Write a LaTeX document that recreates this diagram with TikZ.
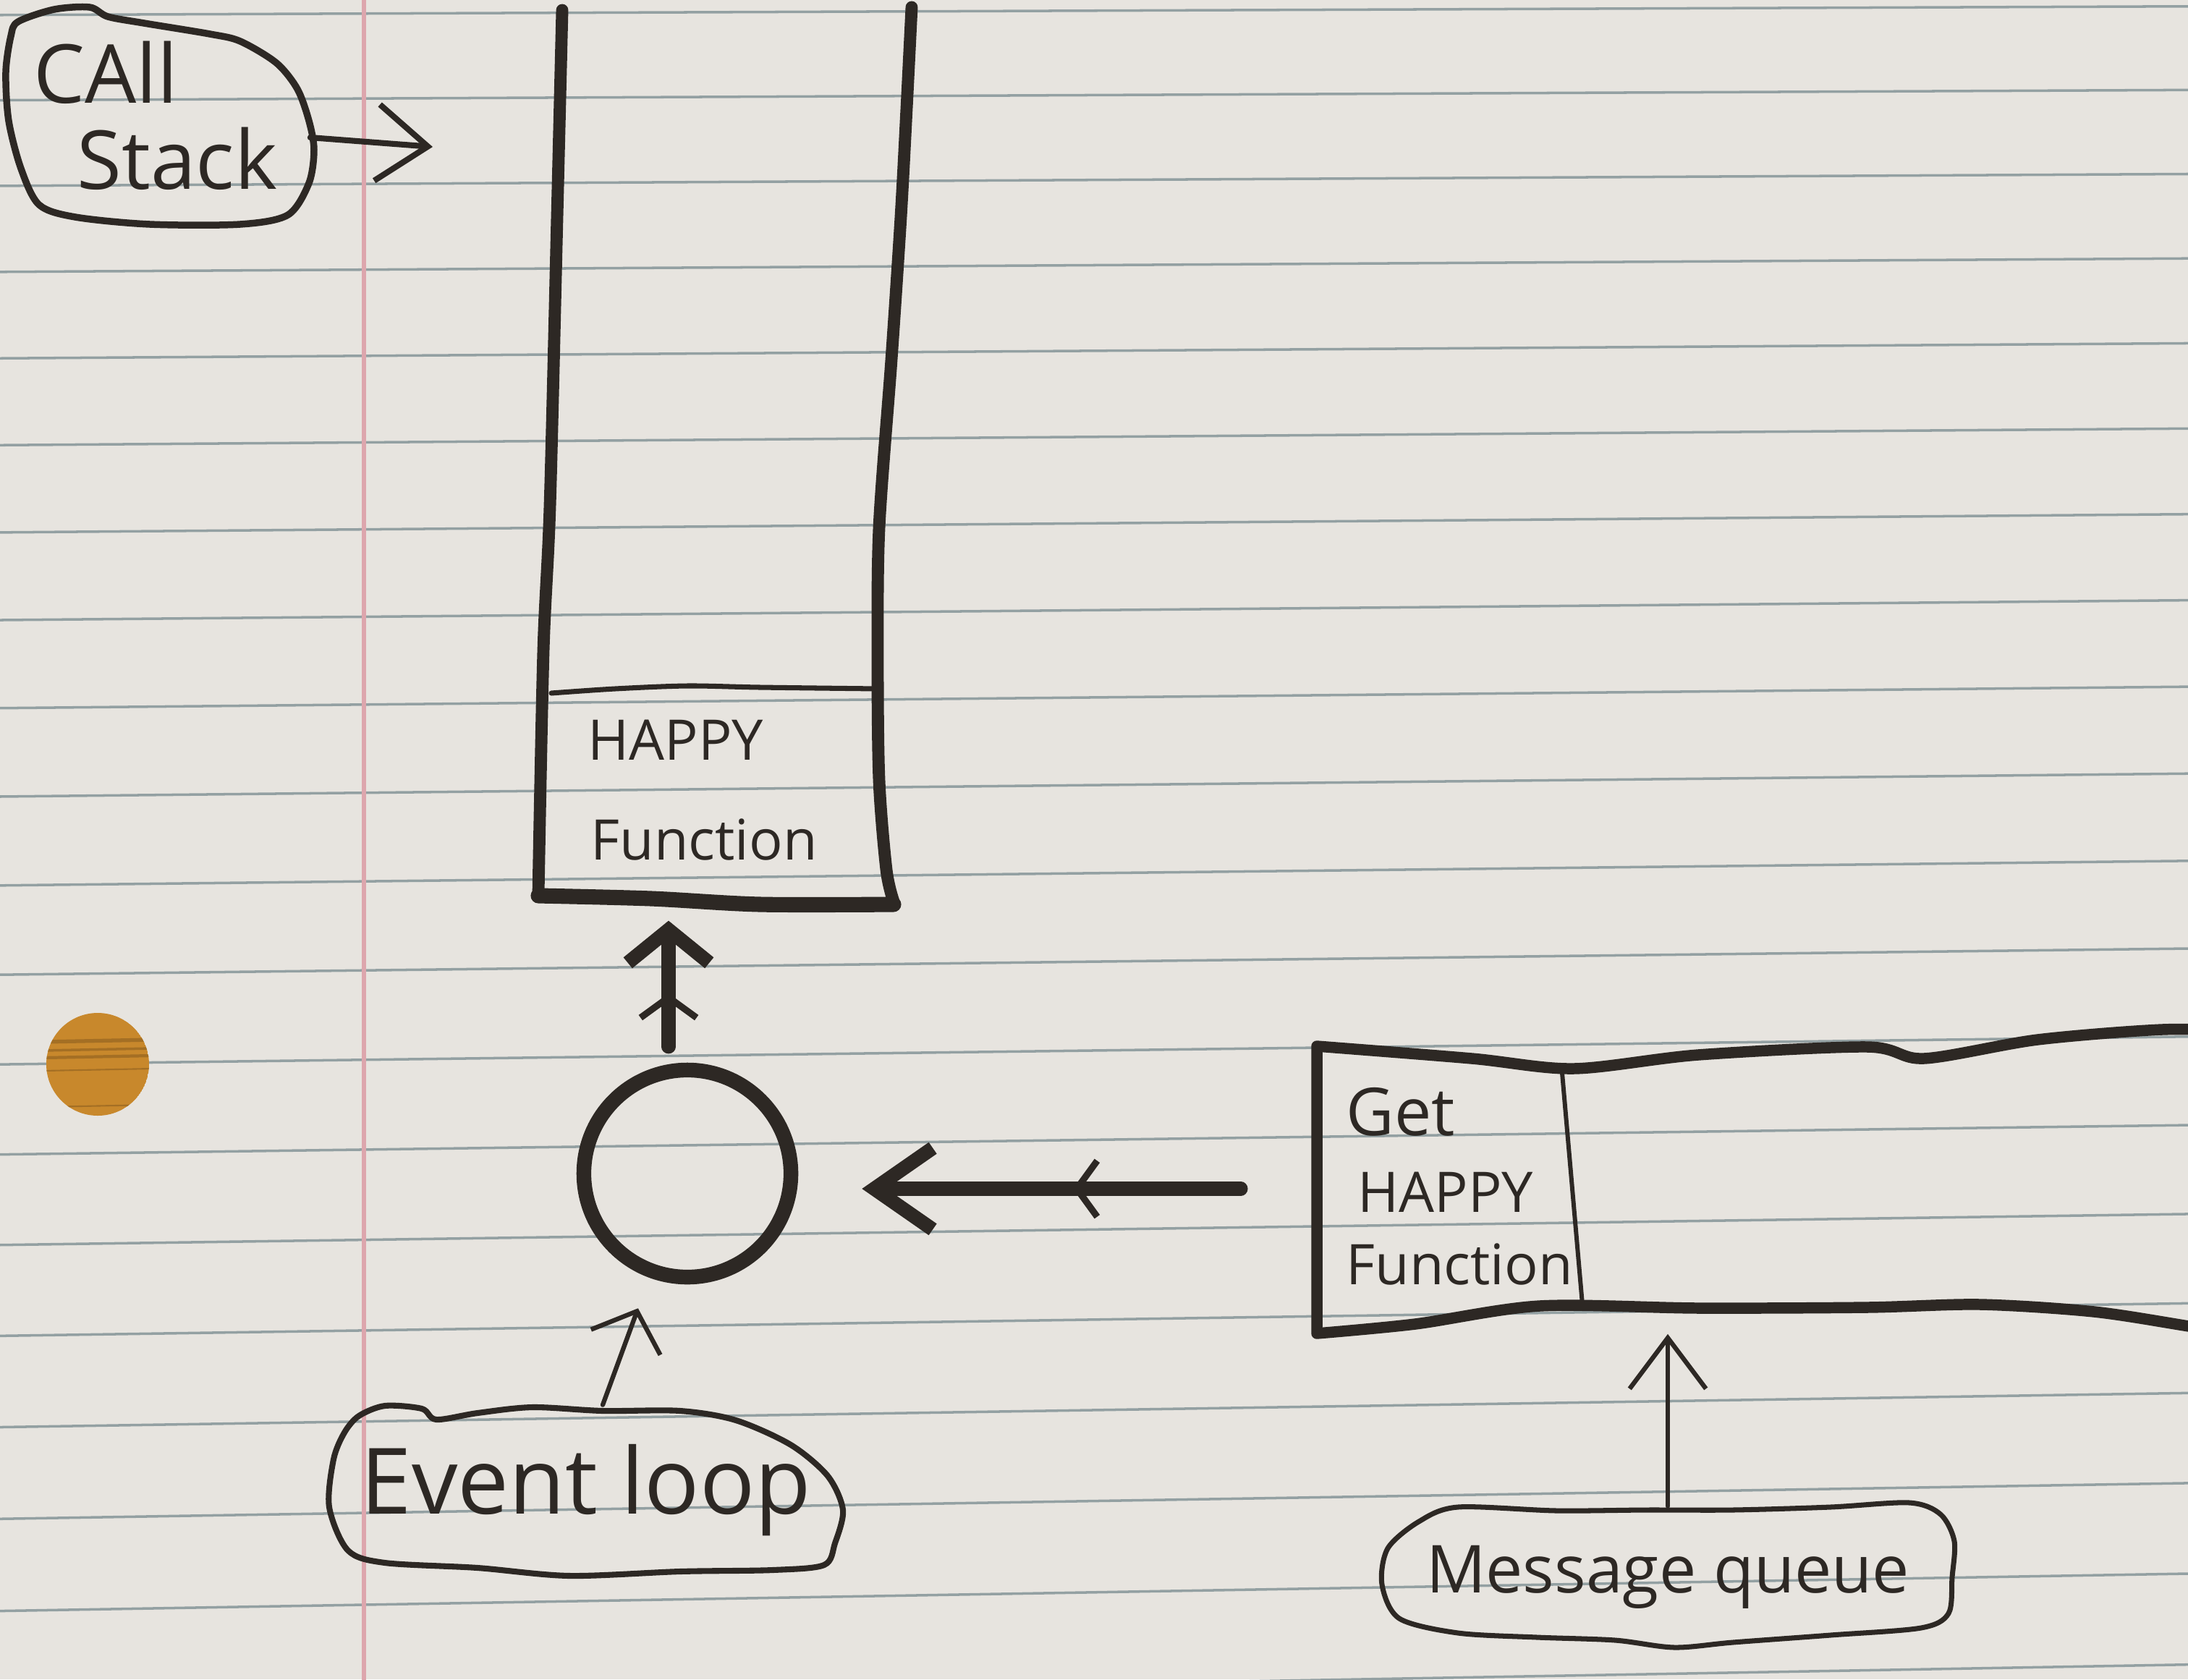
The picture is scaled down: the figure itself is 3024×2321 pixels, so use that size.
\documentclass[tikz,border=0pt]{standalone}
\usepackage{fontspec}
\setmainfont{Open Sans}
\usetikzlibrary{arrows.meta, positioning, decorations.markings, calc}

\definecolor{paper}{HTML}{E7E4DF}
\definecolor{ruling}{HTML}{93A0A2}
\definecolor{margin}{HTML}{DDA6AD}
\definecolor{ink}{HTML}{2D2824}
\definecolor{hole}{HTML}{C8882C}

\begin{document}
\begin{tikzpicture}[x=0.01cm, y=-0.01cm, line cap=round, line join=round,
    hand/.style={font=\fontsize{#1}{#1}\selectfont, text=ink, inner sep=0pt},
    hand/.default=22,
    wall/.style={draw=ink, line width=4.8pt},
    bubble/.style={draw=ink, line width=2.3pt},
    penarrow/.style={draw=ink, line width=1.8pt, -{Straight Barb[length=20pt, width=30pt]}},
    fatarrow/.style={draw=ink, line width=5.5pt, -{Straight Barb[length=#1, width=32pt]}},
    midmark/.style={decoration={markings, mark=at position #1 with
        {\arrow{Straight Barb[length=8pt, width=22pt, line width=2.6pt]}}}, postaction={decorate}}]

    \useasboundingbox (0,0) rectangle (3024,2321);
    \clip (0,0) rectangle (3024,2321);

    % lined paper
    \fill[paper] (0,0) rectangle (3024,2321);
    \foreach \k in {0,...,19}{
        \pgfmathsetmacro\rowy{18+117*\k+0.28*\k*\k}
        \pgfmathsetmacro\tilt{12+2.2*\k}
        \draw[ruling, line width=1pt] (0,{\rowy+0.23*\tilt}) -- (3024,{\rowy-0.77*\tilt});
    }
    \draw[margin, line width=1.6pt] (503,0) -- (503,2321);
    \begin{scope}
        \clip (135,1471) circle (71);
        \fill[hole] (135,1471) circle (71);
        \foreach \sy/\sw in {1440/1.5, 1452/1, 1462/1.2, 1480/0.6, 1530/0.6}
            \draw[hole!82!black, line width=\sw pt] (60,\sy) -- (210,{\sy-3});
    \end{scope}

    % call stack
    \node[minimum width=5cm, minimum height=12.45cm, inner sep=0pt] (stack) at (990,632) {};
    \draw[wall] plot[smooth] coordinates {(777,14) (770,300) (760,700) (751,900) (744,1238)};
    \draw[wall] plot[smooth] coordinates {(1260,10) (1253,150) (1245,300) (1232,497) (1215,730)
        (1213,912) (1215,1078) (1225,1202) (1235,1246)};
    \draw[wall, line width=6pt] plot[smooth] coordinates {(744,1238) (900,1242) (1050,1250) (1235,1250)};
    \draw[draw=ink, line width=2pt] plot[smooth] coordinates {(762,958) (850,952) (950,948) (1050,950) (1214,952)};
    \node[hand, anchor=west] (shappy) at (812,1023) {HAPPY};
    \node[hand, anchor=west] (sfunc) at (816,1160) {Function};

    \node[font=\fontsize{32}{34}\selectfont, text=ink, align=left, inner sep=0pt,
          minimum width=4.26cm, minimum height=3cm] (callstack) at (215,160) {CAll\\\hspace*{17pt}Stack};
    \draw[bubble, line width=2.7pt] plot[smooth cycle] coordinates {(25,30) (75,13) (124,10) (149,23) (199,32)
        (290,47) (332,57) (382,87) (411,123) (427,167) (434,207) (427,253) (398,297) (332,310)
        (207,310) (104,300) (54,283) (29,233) (12,167) (8,100) (15,50)};
    \coordinate (stackpoint) at (598,203);
    \draw[penarrow, line width=2.3pt] (callstack.-8) -- (stackpoint);

    % event loop
    \node[draw=ink, line width=5.8pt, circle, minimum size=2.86cm, inner sep=0pt] (loop) at (950,1622) {};
    \draw[fatarrow=13pt, midmark=0.45, shorten <=0.22cm, shorten >=0.17cm]
        ($(loop.north)+(-26,0)$) -- ($(stack.south -| loop.north)+(-26,0)$);

    \node[hand=36, minimum width=7.1cm, minimum height=2.35cm] (eventloop) at (810,2060) {Event loop};
    \draw[bubble] plot[smooth cycle] coordinates {(496,1957) (532,1943) (583,1947) (603,1962) (660,1953)
        (736,1945) (833,1950) (940,1950) (1017,1963) (1093,1997) (1144,2040) (1165,2087)
        (1154,2133) (1139,2163) (1068,2170) (940,2172) (787,2178) (660,2167) (532,2160)
        (481,2143) (455,2083) (461,2017) (476,1980)};
    \draw[penarrow, shorten >=0.45cm, -{Straight Barb[length=13pt, width=29pt]}]
        ([xshift=0.23cm]eventloop.north) -- (loop);

    % message queue
    \node[minimum width=12.04cm, minimum height=4cm, inner sep=0pt] (queuebox) at (2422,1643) {};
    \draw[draw=ink, line width=4.4pt] plot[smooth] coordinates {(3100,1425) (2988,1423) (2816,1437)
        (2659,1463) (2581,1447) (2347,1458) (2175,1477) (2034,1463) (1820,1446)}
        -- plot[smooth] coordinates {(1820,1843) (1956,1830) (2128,1805) (2347,1808) (2581,1807)
        (2737,1803) (2894,1813) (3025,1833) (3100,1845)};
    \draw[draw=ink, line width=1.7pt] (2159,1483) -- (2187,1803);
    \node[hand=26, anchor=west] (qget) at (1860,1537) {Get};
    \node[hand, below=0.48cm of qget.south west, anchor=north west, xshift=0.16cm] (qhappy) {HAPPY};
    \node[hand, below=0.42cm of qhappy.south west, anchor=north west, xshift=-0.16cm] (qfunc) {Function};
    \draw[fatarrow=23pt, midmark=0.47, shorten <=1.04cm, shorten >=0.88cm]
        (queuebox.west) -- (queuebox.west -| loop.east);

    \node[hand=26, minimum width=7.9cm, minimum height=1.95cm] (msgqueue) at (2305,2180) {Message queue};
    \draw[bubble, line width=2pt] plot[smooth cycle] coordinates {(2015,2083) (2151,2088) (2276,2087)
        (2395,2087) (2530,2083) (2639,2077) (2682,2093) (2701,2130) (2698,2180) (2693,2230)
        (2655,2250) (2530,2260) (2395,2270) (2314,2277) (2232,2267) (2124,2263) (2015,2257)
        (1934,2237) (1910,2190) (1918,2140) (1961,2103)};
    \draw[penarrow] (msgqueue.north) -- (msgqueue.north |- queuebox.south);
\end{tikzpicture}
\end{document}
